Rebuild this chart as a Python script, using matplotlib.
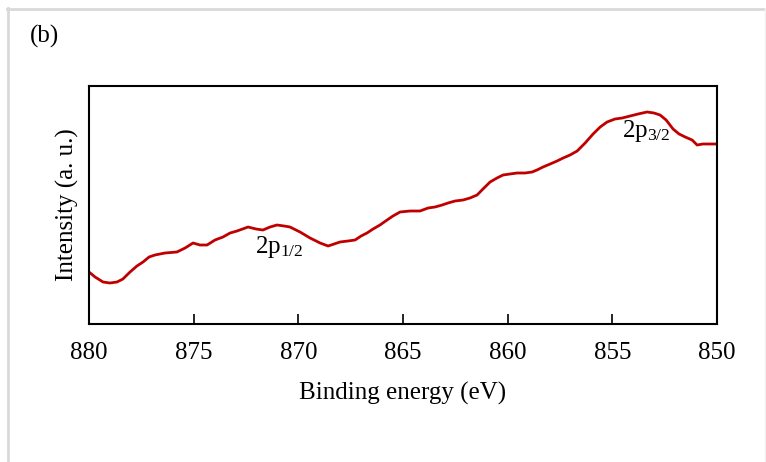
import matplotlib
matplotlib.use("Agg")
import matplotlib.pyplot as plt
from matplotlib.lines import Line2D

plt.rcParams['font.family'] = ['Liberation Serif', 'DejaVu Serif']
plt.rcParams['mathtext.fontset'] = 'custom'
plt.rcParams['mathtext.rm'] = 'Liberation Serif'
plt.rcParams['mathtext.it'] = 'Liberation Serif:italic'

energy = [880.0, 879.71, 879.33, 879.0, 878.66, 878.38, 878.04, 877.71, 877.42, 877.13,
          876.85, 876.37, 875.80, 875.41, 875.03, 874.70, 874.36, 873.98, 873.60, 873.26,
          872.93, 872.40, 872.02, 871.69, 871.35, 871.02, 870.68, 870.40, 869.92, 869.44,
          868.96, 868.58, 868.29, 868.01, 867.63, 867.29, 867.00, 866.72, 866.43, 866.10,
          865.76, 865.48, 865.14, 864.66, 864.19, 863.80, 863.47, 863.13, 862.85, 862.51,
          862.13, 861.80, 861.46, 861.18, 860.84, 860.51, 860.22, 859.89, 859.55, 859.17,
          858.83, 858.60, 858.31, 857.97, 857.64, 857.35, 857.02, 856.68, 856.30, 855.92,
          855.58, 855.25, 854.87, 854.53, 854.15, 853.77, 853.34, 853.01, 852.72, 852.43,
          852.10, 851.81, 851.52, 851.19, 850.95, 850.67, 850.33, 850.0]
intensity = [52, 47, 42, 41, 42, 45, 52, 58, 62, 67,
             69, 71, 72, 76, 81, 79, 79, 84, 87, 91,
             93, 97, 95, 94, 97, 99, 98, 97, 92, 86,
             81, 78, 80, 82, 83, 84, 88, 91, 95, 99,
             104, 108, 112, 113, 113, 116, 117, 119, 121, 123,
             124, 126, 129, 135, 142, 146, 149, 150, 151, 151,
             152, 154, 157, 160, 163, 166, 169, 173, 181, 190,
             197, 202, 205, 206, 208, 210, 212, 211, 209, 204,
             195, 190, 187, 184, 179, 180, 180, 180]

xticks = [880, 875, 870, 865, 860, 855, 850]
peak_labels = ['2p$_{\\mathregular{1/2}}$', '2p$_{\\mathregular{3/2}}$']
peak_pos = [(869.75, 90), (852.2, 206)]

W, H = 766, 462
fig = plt.figure(figsize=(W / 100, H / 100), dpi=100)
ax = fig.add_axes([89 / W, 1 - 324 / H, (717 - 89) / W, (324 - 86) / H])

ax.plot(energy, intensity, color='#C00000', lw=2.0)
ax.set_xlim(880, 850)
ax.set_ylim(0, 238)
ax.set_xticks(xticks)
ax.set_xticklabels([str(t) for t in xticks])
ax.set_yticks([])
ax.tick_params(axis='x', direction='in', length=7, width=1.2, labelsize=18, pad=13)
for s in ax.spines.values():
    s.set_linewidth(1.5)
    s.set_color('black')

ax.set_xlabel('Binding energy (eV)', fontsize=18, labelpad=13)
ax.set_ylabel('Intensity (a. u.)', fontsize=18, labelpad=7)

for lab, (px, py) in zip(peak_labels, peak_pos):
    ax.text(px, py, lab, fontsize=18, ha='right', va='top')

fig.text(30 / W, 1 - 36 / H, '(b)', fontsize=18, va='center', ha='left')

# light gray frame
gc = '#d9d9d9'
fig.add_artist(Line2D([7 / W, 765 / W], [1 - 8.5 / H, 1 - 8.5 / H], color=gc, lw=2, transform=fig.transFigure))
fig.add_artist(Line2D([7.5 / W, 7.5 / W], [0, 1 - 8 / H], color=gc, lw=2, transform=fig.transFigure))
fig.add_artist(Line2D([765 / W, 765 / W], [0, 1 - 8 / H], color='#f0f0f0', lw=1, transform=fig.transFigure))

fig.savefig('out.png', dpi=100)
